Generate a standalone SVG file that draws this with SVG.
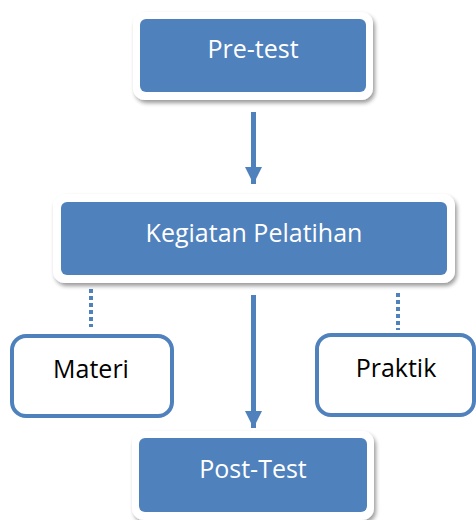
<svg xmlns="http://www.w3.org/2000/svg" width="476" height="520" viewBox="0 0 476 520">
<defs>
<filter id="sh" x="-10%" y="-20%" width="125%" height="150%">
<feGaussianBlur in="SourceAlpha" stdDeviation="2"/>
<feOffset dx="2" dy="3" result="b"/>
<feComponentTransfer><feFuncA type="linear" slope="0.4"/></feComponentTransfer>
<feMerge><feMergeNode/><feMergeNode in="SourceGraphic"/></feMerge>
</filter>
<marker id="ah" markerUnits="userSpaceOnUse" markerWidth="18" markerHeight="18" refX="17" refY="8.5" orient="auto">
<path d="M0,0 L17,8.5 L0,17 Z" fill="#4F81BD"/>
</marker>
</defs>
<style>
.frame{fill:#fff;filter:url(#sh)}
.blue{fill:#4F81BD}
.wbox{fill:#fff;stroke:#4F81BD;stroke-width:4}
.wt{fill:#fff;font-family:"Open Sans",sans-serif;font-size:25px;text-anchor:middle}
.bt{fill:#000;font-family:"Open Sans",sans-serif;font-size:25px;text-anchor:middle}
.arr{stroke:#4F81BD;stroke-width:5;fill:none}
.dot{stroke:#4F81BD;stroke-width:4;stroke-dasharray:4 3;fill:none}
</style>
<g id="connectors">
<line class="arr" x1="253.5" y1="112" x2="253.5" y2="184" marker-end="url(#ah)"/>
<line class="arr" x1="253.5" y1="295" x2="253.5" y2="428" marker-end="url(#ah)"/>
<line class="dot" x1="91" y1="289" x2="91" y2="327"/>
<line class="dot" x1="398" y1="293" x2="398" y2="330"/>
</g>
<g id="pretest">
<rect class="frame" x="133" y="12" width="240" height="88" rx="12"/>
<rect class="blue" x="140" y="19" width="226" height="73" rx="6"/>
<text class="wt" x="253" y="58">Pre-test</text>
</g>
<g id="kegiatan">
<rect class="frame" x="53" y="194" width="402" height="89" rx="12"/>
<rect class="blue" x="61" y="202" width="386" height="73" rx="6"/>
<text class="wt" x="254" y="242">Kegiatan Pelatihan</text>
</g>
<g id="materi">
<rect class="wbox" x="12" y="336" width="160" height="80" rx="14"/>
<text class="bt" x="91" y="378">Materi</text>
</g>
<g id="praktik">
<rect class="wbox" x="317" y="335" width="157" height="80" rx="14"/>
<text class="bt" x="396" y="377">Praktik</text>
</g>
<g id="posttest">
<rect class="frame" x="132" y="431" width="242" height="89" rx="12"/>
<rect class="blue" x="139" y="438" width="228" height="74" rx="6"/>
<text class="wt" x="253" y="478">Post-Test</text>
</g>
</svg>
